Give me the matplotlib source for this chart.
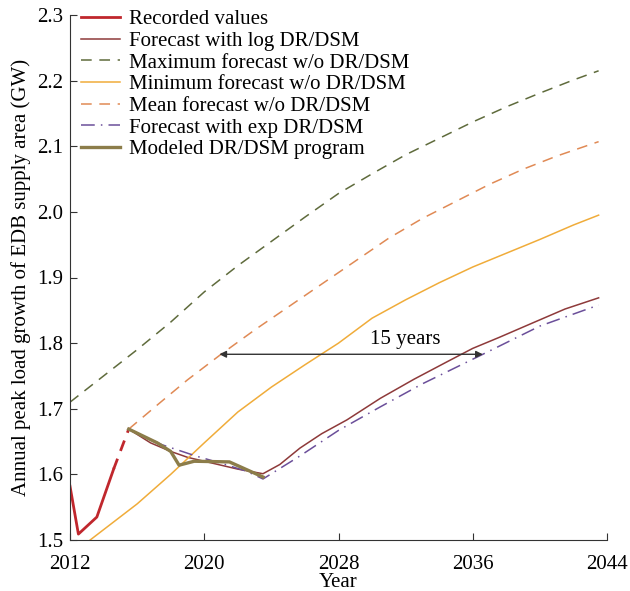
import matplotlib
matplotlib.use("Agg")
import matplotlib.pyplot as plt

plt.rcParams['font.family'] = ['Liberation Serif', 'DejaVu Serif']
plt.rcParams['mathtext.fontset'] = 'stix'

# Recorded values (solid part + dashed continuation)
rec_x = [2012.0, 2012.5, 2013.6, 2014.6]
rec_y = [1.582, 1.509, 1.535, 1.608]
rec_dash_x = [2014.6, 2015.5]
rec_dash_y = [1.608, 1.669]

# Forecast with log DR/DSM
log_x = [2015.5, 2016.8, 2018.0, 2019.0, 2020.5, 2022.0, 2023.5, 2024.5, 2025.7,
         2027.0, 2028.5, 2030.5, 2032.5, 2034.5, 2036.0, 2037.6, 2039.5, 2041.5, 2043.5]
log_y = [1.669, 1.648, 1.635, 1.626, 1.617, 1.608, 1.601, 1.615, 1.640,
         1.662, 1.683, 1.716, 1.745, 1.772, 1.792, 1.809, 1.830, 1.852, 1.869]

# Maximum forecast w/o DR/DSM
max_x = [2012, 2014, 2016, 2018, 2020, 2022, 2024, 2026, 2028, 2030, 2032,
         2034, 2036, 2038, 2040, 2042, 2043.5]
max_y = [1.710, 1.750, 1.790, 1.832, 1.878, 1.918, 1.955, 1.992, 2.028, 2.058,
         2.087, 2.112, 2.137, 2.160, 2.181, 2.201, 2.215]

# Minimum forecast w/o DR/DSM
min_x = [2013.2, 2016, 2018, 2020, 2022, 2024, 2026, 2028, 2030, 2032, 2034,
         2036, 2038, 2040, 2042, 2043.5]
min_y = [1.500, 1.555, 1.600, 1.648, 1.695, 1.733, 1.767, 1.800, 1.838, 1.866,
         1.892, 1.916, 1.937, 1.958, 1.980, 1.995]

# Mean forecast w/o DR/DSM
mean_x = [2015.5, 2017.4, 2019, 2021, 2023, 2025, 2027, 2029, 2031, 2033, 2035,
          2037, 2039, 2041, 2043.5]
mean_y = [1.669, 1.710, 1.744, 1.783, 1.820, 1.855, 1.890, 1.925, 1.960, 1.990,
          2.016, 2.042, 2.065, 2.085, 2.107]

# Forecast with exp DR/DSM
exp_x = [2015.5, 2017.5, 2019.5, 2021.0, 2022.5, 2023.5, 2025.7, 2028.0, 2030.5,
         2033.0, 2036.6, 2040.0, 2043.5]
exp_y = [1.669, 1.645, 1.628, 1.617, 1.605, 1.593, 1.628, 1.667, 1.703,
         1.738, 1.783, 1.826, 1.858]

# Modeled DR/DSM program
mod_x = [2015.5, 2017.2, 2018.0, 2018.5, 2019.4, 2021.5, 2023.5]
mod_y = [1.669, 1.648, 1.635, 1.614, 1.620, 1.619, 1.596]

x_ticks = [2012, 2020, 2028, 2036, 2044]
y_ticks = [1.5, 1.6, 1.7, 1.8, 1.9, 2.0, 2.1, 2.2, 2.3]

fig = plt.figure(figsize=(6.3, 5.91), dpi=100)
ax = fig.add_axes([70/630, 1 - 540/591, (607-70)/630, (540-15)/591])

c_rec = '#c0272d'
c_log = '#8e3a3a'
c_max = '#5f6b3c'
c_min = '#f0ac3a'
c_mean = '#e08a55'
c_exp = '#6b4f9a'
c_mod = '#8c7d4a'

ax.plot(rec_x, rec_y, color=c_rec, lw=2.0, label='Recorded values')
ax.plot(rec_dash_x, rec_dash_y, color=c_rec, lw=2.0, ls=(0, (4, 3)))
ax.plot(log_x, log_y, color=c_log, lw=1.1, label='Forecast with log DR/DSM')
ax.plot(max_x, max_y, color=c_max, lw=1.1, ls=(0, (7, 5)),
        label='Maximum forecast w/o DR/DSM')
ax.plot(min_x, min_y, color=c_min, lw=1.1, label='Minimum forecast w/o DR/DSM')
ax.plot(mean_x, mean_y, color=c_mean, lw=1.1, ls=(0, (7, 5)),
        label='Mean forecast w/o DR/DSM')
ax.plot(exp_x, exp_y, color=c_exp, lw=1.1, ls=(0, (9, 4, 1, 4)),
        label='Forecast with exp DR/DSM')
ax.plot(mod_x, mod_y, color=c_mod, lw=2.4, label='Modeled DR/DSM program')

ax.annotate('', xy=(2020.9, 1.783), xytext=(2036.6, 1.783),
            arrowprops=dict(arrowstyle='<|-|>', color='#333333', lw=1.0,
                            mutation_scale=10, shrinkA=0, shrinkB=0))
ax.text(2032.0, 1.806, '15 years', fontsize=15, ha='center', va='center')

ax.set_xlim(2012, 2044)
ax.set_ylim(1.5, 2.3)
ax.set_xticks(x_ticks)
ax.set_yticks(y_ticks)
ax.set_yticklabels([f'{v:.1f}' for v in y_ticks])
ax.tick_params(direction='in', length=5, labelsize=15, color='#333333')
ax.tick_params(axis='x', pad=11)
ax.tick_params(axis='y', pad=5)
for s in ['top', 'right']:
    ax.spines[s].set_visible(False)
for s in ['left', 'bottom']:
    ax.spines[s].set_color('#333333')
ax.set_xlabel('Year', fontsize=15, labelpad=-1)
ax.set_ylabel('Annual peak load growth of EDB supply area (GW)', fontsize=15, labelpad=4)

ax.legend(loc='upper left', bbox_to_anchor=(0.02, 1.01), frameon=False,
          fontsize=15, handlelength=1.9, handletextpad=0.4, labelspacing=0.1,
          borderpad=0, borderaxespad=0)

fig.savefig('out.png', dpi=100)
